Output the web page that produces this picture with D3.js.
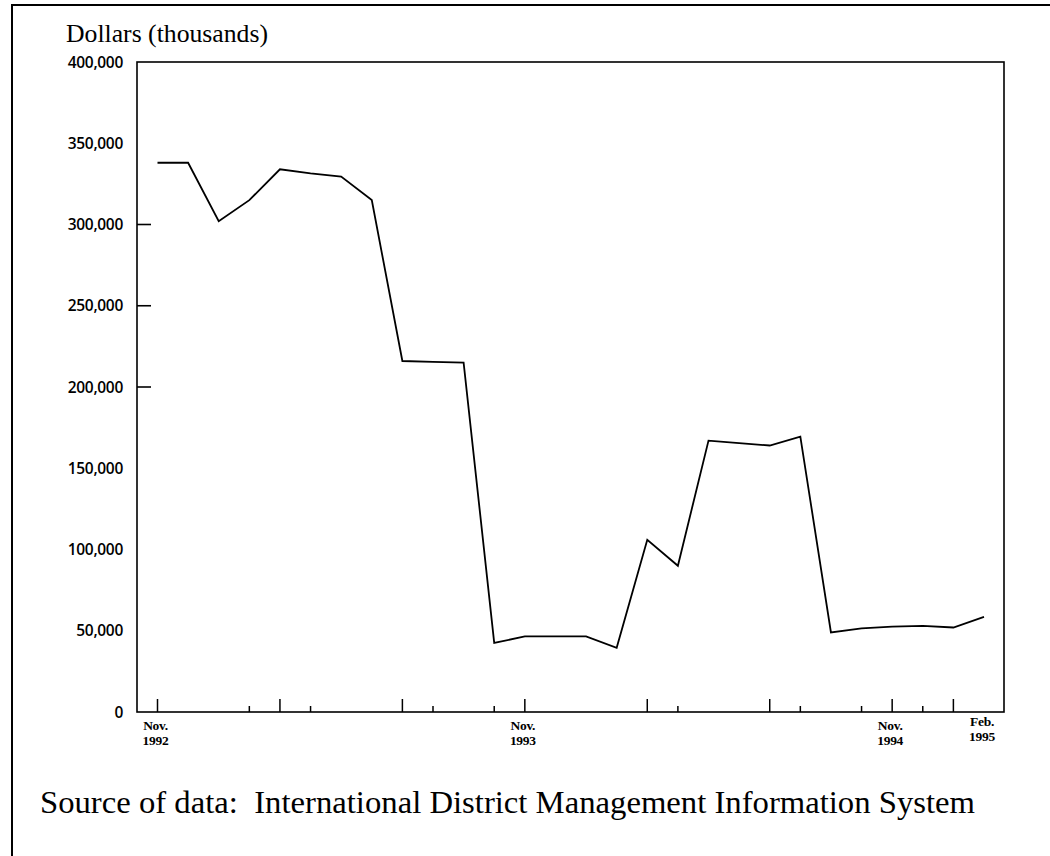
<!DOCTYPE html>
<html>
<head>
<meta charset="utf-8">
<script src="https://cdn.jsdelivr.net/npm/d3@7"></script>
<style>
    body { margin: 0; background: #fff; }
    svg { display: block; }
</style>
</head>
<body>
<div id="graph"></div>
<script>
    "use strict";

    // monthly balance, Nov. 1992 .. Feb. 1995 (month index 0..27)
    var values = [338000, 338000, 302000, 315000, 334000, 331500, 329500, 315000,
        216000, 215500, 215000, 42500, 46500, 46500, 46500, 39500,
        106000, 90000, 167000, 165500, 164000, 169500, 49000, 51500,
        52500, 53000, 52000, 58500];
    var yTicks = [0, 50000, 100000, 150000, 200000, 250000, 300000, 350000, 400000];
    var yTickMarks = [200000, 250000, 300000];
    var longTicks = [0, 4, 8, 12, 16, 20, 24, 26];
    var shortTicks = [3, 5, 9, 11, 17, 21, 23, 25];
    var xLabels = [
        {m: 0, l1: "Nov.", l2: "1992"},
        {m: 12, l1: "Nov.", l2: "1993"},
        {m: 24, l1: "Nov.", l2: "1994"},
        {m: 27, l1: "Feb.", l2: "1995"}
    ];

    var W = 1050, H = 856;
    var plot = {left: 137, top: 62, right: 1004, bottom: 712};

    var svg = d3.select("#graph")
        .append("svg")
        .attr("width", W)
        .attr("height", H);

    // outer frame (only top and left show in the scan)
    svg.append("path")
        .attr("d", "M12," + H + "V5H" + W)
        .attr("fill", "none")
        .attr("stroke", "#000")
        .attr("stroke-width", 2);

    var x = d3.scaleLinear().domain([0, 27]).range([157.5, 984]);
    var y = d3.scaleLinear().domain([0, 400000]).range([plot.bottom, plot.top]);

    // plot box
    svg.append("rect")
        .attr("x", plot.left)
        .attr("y", plot.top)
        .attr("width", plot.right - plot.left)
        .attr("height", plot.bottom - plot.top)
        .attr("fill", "none")
        .attr("stroke", "#000")
        .attr("stroke-width", 1.6);

    svg.append("text")
        .attr("x", 66)
        .attr("y", 42)
        .attr("textLength", 202)
        .attr("lengthAdjust", "spacingAndGlyphs")
        .style("font-family", "'Liberation Serif', serif")
        .style("font-size", "26px")
        .text("Dollars (thousands)");

    // y labels
    svg.selectAll(".ylab")
        .data(yTicks)
        .enter()
        .append("text")
        .attr("class", "ylab")
        .attr("x", 123)
        .attr("y", function (d) { return y(d) + 5.5; })
        .attr("text-anchor", "end")
        .style("font-family", "'Open Sans', sans-serif")
        .style("font-weight", 600)
        .style("font-size", "15.5px")
        .style("letter-spacing", "-0.3px")
        .text(function (d) { return d3.format(",")(d); });

    svg.selectAll(".ytick")
        .data(yTickMarks)
        .enter()
        .append("line")
        .attr("x1", plot.left)
        .attr("x2", plot.left + 14)
        .attr("y1", function (d) { return y(d); })
        .attr("y2", function (d) { return y(d); })
        .attr("stroke", "#000")
        .attr("stroke-width", 1.6);

    // x ticks
    svg.selectAll(".xlong")
        .data(longTicks)
        .enter()
        .append("line")
        .attr("x1", function (d) { return x(d); })
        .attr("x2", function (d) { return x(d); })
        .attr("y1", plot.bottom)
        .attr("y2", plot.bottom - 13)
        .attr("stroke", "#000")
        .attr("stroke-width", 1.5);

    svg.selectAll(".xshort")
        .data(shortTicks)
        .enter()
        .append("line")
        .attr("x1", function (d) { return x(d); })
        .attr("x2", function (d) { return x(d); })
        .attr("y1", plot.bottom)
        .attr("y2", plot.bottom - 6)
        .attr("stroke", "#000")
        .attr("stroke-width", 1.5);

    // two-line month labels, drawn as separate texts
    function monthLabel(key, dy) {
        svg.selectAll(".xlab-" + key)
            .data(xLabels)
            .enter()
            .append("text")
            .attr("class", "xlab-" + key)
            .attr("x", function (d) { return x(d.m) - 2; })
            .attr("y", function (d) { return (d.m === 27 ? 726 : 730) + dy; })
            .attr("text-anchor", "middle")
            .style("font-family", "'Liberation Serif', serif")
            .style("font-weight", "bold")
            .style("font-size", "13.5px")
            .style("letter-spacing", "-0.3px")
            .text(function (d) { return d[key]; });
    }
    monthLabel("l1", 0);
    monthLabel("l2", 15);

    // the series
    var line = d3.line()
        .x(function (d, i) { return x(i); })
        .y(function (d) { return y(d); });

    svg.append("path")
        .datum(values)
        .attr("d", line)
        .attr("fill", "none")
        .attr("stroke", "#000")
        .attr("stroke-width", 1.8)
        .attr("stroke-linejoin", "miter");

    svg.append("text")
        .attr("x", 40)
        .attr("y", 813)
        .attr("textLength", 935)
        .attr("lengthAdjust", "spacingAndGlyphs")
        .style("font-family", "'Liberation Serif', serif")
        .style("font-size", "31px")
        .style("white-space", "pre")
        .text("Source of data:  International District Management Information System");
</script>
</body>
</html>
